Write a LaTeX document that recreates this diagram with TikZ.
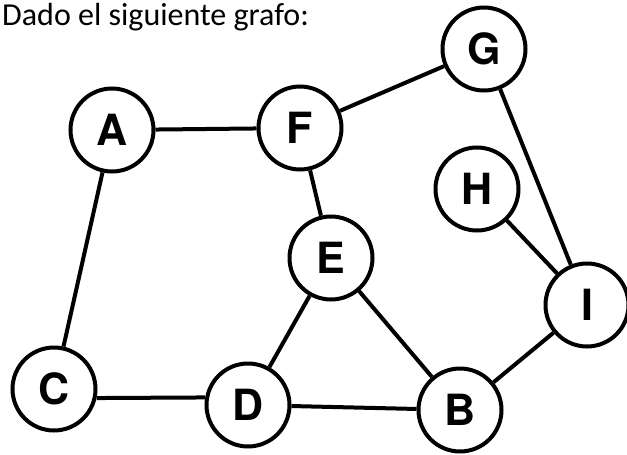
\documentclass[tikz,border=0pt]{standalone}
\usepackage{fontspec}
\setmainfont{Carlito}
\newfontfamily\herosfont{TeX Gyre Heros}
\begin{document}
\begin{tikzpicture}[x=1pt,y=-1pt,
  vertex/.style={circle,draw=black,line width=4pt,minimum size=83pt,inner sep=0pt,fill=white,
    font=\herosfont\bfseries\fontsize{43}{43}\selectfont},
  edge/.style={line width=4pt}]
\useasboundingbox (0,0) rectangle (627,455);
\node[anchor=base west,inner sep=0pt,font=\fontsize{32}{36}\selectfont] (title) at (2,25) {Dado el siguiente grafo:};
\node[vertex] (A) at (112,130) {A};
\node[vertex] (F) at (300,128) {F};
\node[vertex] (G) at (484,49) {G};
\node[vertex] (H) at (477,189) {H};
\node[vertex] (E) at (331,258) {E};
\node[vertex] (I) at (587,305) {I};
\node[vertex] (C) at (54,389) {C};
\node[vertex] (D) at (248,405) {D};
\node[vertex] (B) at (460,410) {B};
\draw[edge] (A) -- (F);
\draw[edge] (A) -- (C);
\draw[edge] (F) -- (G);
\draw[edge] (F) -- (E);
\draw[edge] (G) -- (I);
\draw[edge] (H) -- (I);
\draw[edge] (E) -- (D);
\draw[edge] (E) -- (B);
\draw[edge] (C.-12) -- (D.170);
\draw[edge] (D) -- (B);
\draw[edge] (B) -- (I);
\end{tikzpicture}
\end{document}
